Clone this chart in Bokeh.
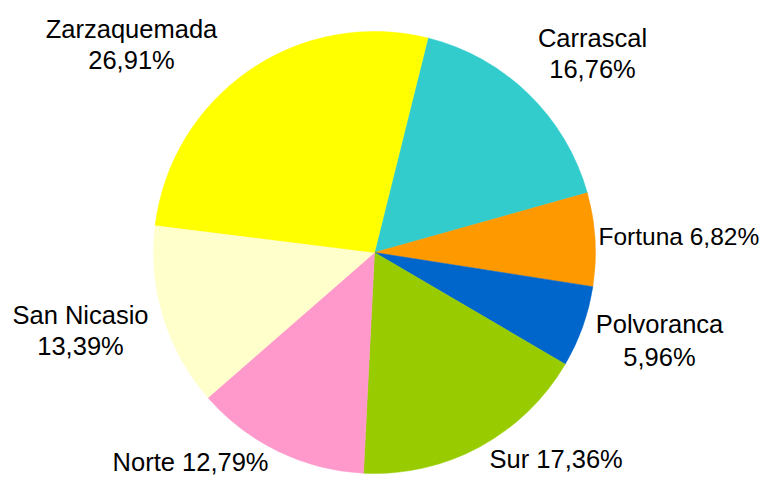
import math
from bokeh.plotting import figure
from bokeh.models import Range1d, ColumnDataSource
from bokeh.core.properties import value
from bokeh.embed import file_html
from bokeh.resources import INLINE

# ---- data ----
categories = ["Carrascal", "Fortuna", "Polvoranca", "Sur", "Norte", "San Nicasio", "Zarzaquemada"]
shares = [16.76, 6.82, 5.96, 17.36, 12.79, 13.39, 26.91]
colors = ["#33CCCC", "#FF9900", "#0066CC", "#99CC00", "#FF99CC", "#FFFFCC", "#FFFF00"]

# ---- layout (pixel coordinates, y measured from top) ----
W, H = 781, 491
PW, PH = W - 16, H - 16
cx, cy, radius = 374, 252, 221
start_deg = 76.0  # math angle of first slice edge
# y = vertical centre of each text line
label_layout = {
    "Carrascal": dict(x=592, ys=[37, 68], align="center", two=True, size="25.5px"),
    "Fortuna": dict(x=598, ys=[236], align="left", two=False, size="24.5px"),
    "Polvoranca": dict(x=659, ys=[323, 356], align="center", two=True, size="25.5px"),
    "Sur": dict(x=489, ys=[458], align="left", two=False, size="25.5px"),
    "Norte": dict(x=268, ys=[461], align="right", two=False, size="25.5px"),
    "San Nicasio": dict(x=80, ys=[314, 345], align="center", two=True, size="25.5px"),
    "Zarzaquemada": dict(x=131, ys=[28, 59], align="center", two=True, size="25.5px"),
}

def fy(y):
    return H - y

total = sum(shares)
starts, ends = [], []
cum = 0.0
for s in shares:
    a0 = math.radians(start_deg - 360.0 * cum / total)
    cum += s
    a1 = math.radians(start_deg - 360.0 * cum / total)
    starts.append(a1)
    ends.append(a0)

src = ColumnDataSource(dict(x=[cx] * len(shares), y=[fy(cy)] * len(shares),
                            start=starts, end=ends, color=colors))

p = figure(width=PW, height=PH, output_backend="svg", toolbar_location=None,
           x_range=Range1d(0, PW), y_range=Range1d(H - PH, H), min_border=0)
p.axis.visible = False
p.grid.visible = False
p.outline_line_color = None
p.background_fill_color = "white"
p.border_fill_color = "white"

p.wedge(x="x", y="y", radius=radius, radius_units="screen", start_angle="start",
        end_angle="end", fill_color="color", line_color="color", line_width=0.5,
        source=src)

for cat, val in zip(categories, shares):
    lay = label_layout[cat]
    pct = f"{val:.2f}".replace(".", ",") + "%"
    lines = [cat, pct] if lay["two"] else [f"{cat} {pct}"]
    for line, yc in zip(lines, lay["ys"]):
        p.text(x=[lay["x"]], y=[fy(yc)], text=[line], text_font=value("Liberation Sans"),
               text_font_size=lay["size"], text_align=lay["align"], text_baseline="middle",
               text_color="black")

open("out.html", "w").write(file_html(p, INLINE))
